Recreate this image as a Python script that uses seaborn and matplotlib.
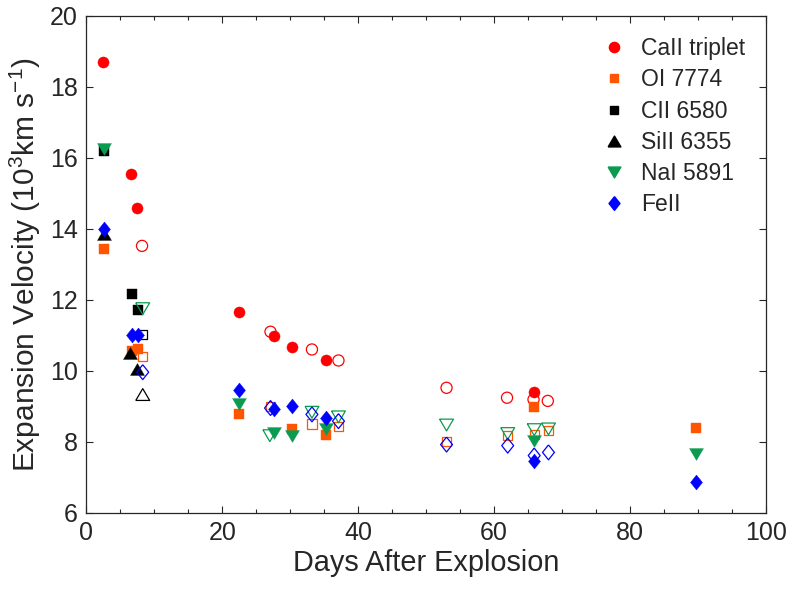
import numpy as np
import pandas as pd
import matplotlib
matplotlib.use("Agg")
import matplotlib.pyplot as plt
from matplotlib.lines import Line2D
from matplotlib.ticker import MultipleLocator
import seaborn as sns

# ---------------- data (days after explosion, velocity in 10^3 km/s) ----------------
species = ["CaII triplet", "OI 7774", "CII 6580", "SiII 6355", "NaI 5891", "FeII"]

ca_fill_d = [2.5, 6.6, 7.5, 22.5, 27.6, 30.3, 35.2, 65.8]
ca_fill_v = [18.7, 15.55, 14.58, 11.65, 10.98, 10.67, 10.3, 9.41]
ca_open_d = [8.2, 27.1, 33.2, 37.1, 53.0, 61.9, 65.8, 67.9]
ca_open_v = [13.52, 11.1, 10.6, 10.29, 9.52, 9.24, 9.19, 9.15]

oi_fill_d = [2.6, 6.67, 7.6, 22.5, 30.3, 35.2, 65.8, 89.7]
oi_fill_v = [13.42, 10.55, 10.62, 8.79, 8.35, 8.2, 8.98, 8.39]
oi_open_d = [8.3, 27.1, 33.2, 37.1, 53.0, 62.0, 65.9, 68.0]
oi_open_v = [10.4, 9.0, 8.5, 8.42, 8.0, 8.17, 8.2, 8.31]

cii_fill_d = [2.6, 6.67, 7.6]
cii_fill_v = [16.2, 12.15, 11.7]
cii_open_d = [8.3]
cii_open_v = [11.02]

si_fill_d = [2.6, 6.5, 7.4]
si_fill_v = [13.85, 10.5, 10.06]
si_open_d = [8.3]
si_open_v = [9.33]

na_fill_d = [2.6, 22.5, 27.6, 30.3, 35.2, 65.9, 89.7]
na_fill_v = [16.25, 9.05, 8.25, 8.17, 8.36, 8.01, 7.66]
na_open_d = [8.3, 27.0, 33.2, 37.1, 53.0, 62.0, 65.9, 68.0]
na_open_v = [11.75, 8.17, 8.83, 8.7, 8.47, 8.23, 8.34, 8.36]

fe_fill_d = [2.6, 6.67, 7.6, 22.5, 27.6, 30.3, 35.2, 65.9, 89.7]
fe_fill_v = [14.0, 11.02, 11.0, 9.45, 8.93, 9.02, 8.67, 7.45, 6.87]
fe_open_d = [8.3, 27.1, 33.2, 37.1, 53.0, 62.0, 65.9, 68.0]
fe_open_v = [9.96, 8.95, 8.77, 8.58, 7.92, 7.89, 7.61, 7.7]

x_ticks = [0, 20, 40, 60, 80, 100]
y_ticks = [6, 8, 10, 12, 14, 16, 18, 20]

# ---------------- styles ----------------
tri_down = [(-1.0, 0.85), (1.0, 0.85), (0.0, -0.85), (-1.0, 0.85)]
tri_up = [(-1.0, -0.85), (1.0, -0.85), (0.0, 0.85), (-1.0, -0.85)]
diamond = [(0.0, 1.0), (0.8, 0.0), (0.0, -1.0), (-0.8, 0.0), (0.0, 1.0)]

styles = {
    "CaII triplet": dict(color="#FF0000", marker="o", s=64),
    "OI 7774": dict(color="#FF5500", marker="s", s=44),
    "CII 6580": dict(color="#000000", marker="s", s=44),
    "SiII 6355": dict(color="#000000", marker=tri_up, s=100),
    "NaI 5891": dict(color="#0A9B50", marker=tri_down, s=100),
    "FeII": dict(color="#0000FF", marker=diamond, s=115),
}

series = {
    "CaII triplet": (ca_fill_d, ca_fill_v, ca_open_d, ca_open_v),
    "OI 7774": (oi_fill_d, oi_fill_v, oi_open_d, oi_open_v),
    "CII 6580": (cii_fill_d, cii_fill_v, cii_open_d, cii_open_v),
    "SiII 6355": (si_fill_d, si_fill_v, si_open_d, si_open_v),
    "NaI 5891": (na_fill_d, na_fill_v, na_open_d, na_open_v),
    "FeII": (fe_fill_d, fe_fill_v, fe_open_d, fe_open_v),
}

sns.set_theme(style="white")
plt.rcParams["font.family"] = ["Liberation Sans", "DejaVu Sans"]
plt.rcParams["mathtext.default"] = "regular"

fig, ax = plt.subplots(figsize=(7.89, 5.92), dpi=100)
fig.subplots_adjust(left=0.1094, right=0.9708, bottom=0.134, top=0.973)

handles = []
for name in species:
    fd, fv, od, ov = series[name]
    st = styles[name]
    df_f = pd.DataFrame({"day": fd, "vel": fv})
    df_o = pd.DataFrame({"day": od, "vel": ov})
    sns.scatterplot(data=df_f, x="day", y="vel", ax=ax, marker=st["marker"],
                    s=st["s"], color=st["color"], edgecolor=st["color"],
                    linewidth=0.3, zorder=3)
    sns.scatterplot(data=df_o, x="day", y="vel", ax=ax, marker=st["marker"],
                    s=st["s"], facecolor="none", edgecolor=st["color"],
                    linewidth=0.9, zorder=3)
    handles.append(Line2D([], [], linestyle="none", marker=st["marker"],
                          markersize=np.sqrt(st["s"]) * 0.92,
                          markerfacecolor=st["color"],
                          markeredgecolor=st["color"], label=name))

ax.set_xlim(0, 100)
ax.set_ylim(6, 20)
ax.set_xticks(x_ticks)
ax.set_yticks(y_ticks)
ax.xaxis.set_minor_locator(MultipleLocator(5))

axis_col = "#262626"
for sp in ax.spines.values():
    sp.set_visible(True)
    sp.set_color(axis_col)
    sp.set_linewidth(0.9)

ax.tick_params(axis="both", which="major", direction="in", length=5,
               width=0.8, color=axis_col, labelsize=18, labelcolor=axis_col,
               top=True, right=True, bottom=True, left=True, pad=6)
ax.tick_params(axis="x", which="minor", direction="in", length=2.6,
               width=0.8, color=axis_col, top=True, bottom=True)

ax.set_xlabel("Days After Explosion", fontsize=20.8, color=axis_col, labelpad=3)
ax.set_ylabel("Expansion Velocity (10$^{3}$km s$^{-1}$)", fontsize=21.5,
              color=axis_col, labelpad=5)

leg = ax.legend(handles=handles, loc="upper right", frameon=False,
                fontsize=16.5, handlelength=1.0, handletextpad=0.7,
                labelspacing=0.36, borderaxespad=0.2,
                bbox_to_anchor=(0.99, 0.985))

fig.savefig("out.png", dpi=100)
